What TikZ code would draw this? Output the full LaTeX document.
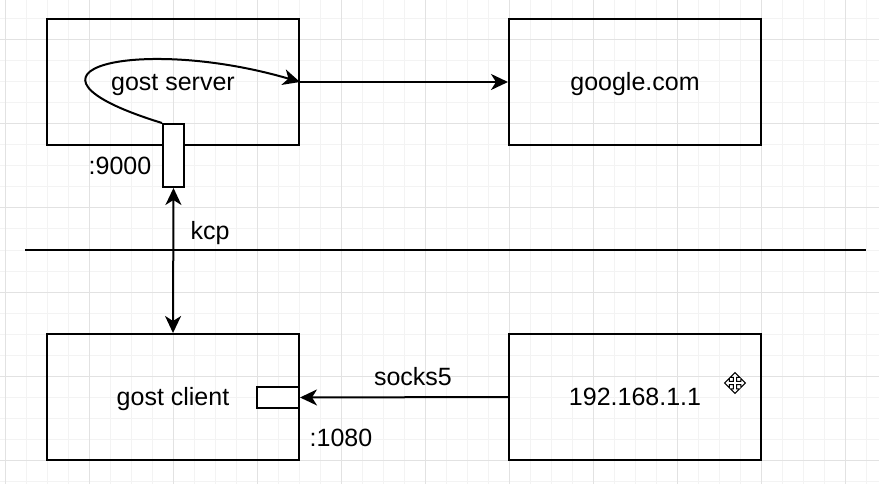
\documentclass[tikz,border=0pt]{standalone}
\usepackage{fontspec}
\setmainfont{Liberation Sans}
\usetikzlibrary{arrows.meta}
\definecolor{gridminor}{HTML}{F3F3F3}
\definecolor{gridmajor}{HTML}{E2E2E2}
\tikzset{
	box/.style={draw,line width=2pt,minimum width=252pt,minimum height=126pt,inner sep=0pt,text height=22.6pt,text depth=5.3pt},
	port/.style={draw,line width=2pt,fill=white,inner sep=0pt},
	conn/.style={line width=2pt,-{Stealth[length=17pt,width=16pt,inset=5pt]}},
	lbl/.style={inner sep=0pt,text height=22.6pt,text depth=5.3pt},
}
\begin{document}
\begin{tikzpicture}[x=1pt,y=-1pt,font=\fontsize{25}{30}\selectfont]
\useasboundingbox[fill=white] (0,0) rectangle (879,484);

% background grid
\foreach \x in {5,26,...,879} \draw[gridminor,line width=1pt] (\x,0) -- (\x,484);
\foreach \y in {19,40,...,484} \draw[gridminor,line width=1pt] (0,\y) -- (879,\y);
\foreach \x in {5,89,...,879} \draw[gridmajor,line width=1pt] (\x,0) -- (\x,484);
\foreach \y in {40,124,...,484} \draw[gridmajor,line width=1pt] (0,\y) -- (879,\y);

% hosts
\node[box] (server) at (173,82) {gost server};
\node[box] (google) at (635,82) {google.com};
\node[box] (client) at (173,397) {gost client};
\node[box] (host) at (635,397) {192.168.1.1};

% ports
\node[port,minimum width=21pt,minimum height=63pt] (p9000) at (173.5,155.5) {};
\node[port,minimum width=42pt,minimum height=21pt] (p1080) at (278,397.5) {};
\node[lbl] (l9000) at (120,166) {:9000};
\node[lbl] (l1080) at (341,438) {:1080};

% divider
\coordinate (divl) at (25,250);
\coordinate (divr) at (866,250);
\draw[line width=2pt] (divl) -- (divr);

% connections
\draw[conn] (p9000.north west) .. controls (-10,70) and (140,35) .. (server.east);
\draw[conn] (server.east) -- (google.west);
\draw[conn,{Stealth[length=17pt,width=16pt,inset=5pt]}-{Stealth[length=17pt,width=16pt,inset=5pt]}] (p9000.south) -- (client.north);
\node[lbl] (kcp) at (210,231) {kcp};
\draw[conn] (host.west) -- (p1080.east);
\node[lbl] (socks) at (413,377) {socks5};

% move cursor
\begin{scope}[shift={(735,383)},scale=1.15]
\draw[fill=white,line width=1pt,line join=miter]
	(1.5,-1.5) -- (5,-1.5) -- (5,-4) -- (9,0) -- (5,4) -- (5,1.5) -- (1.5,1.5)
	-- (1.5,5) -- (4,5) -- (0,9) -- (-4,5) -- (-1.5,5) -- (-1.5,1.5)
	-- (-5,1.5) -- (-5,4) -- (-9,0) -- (-5,-4) -- (-5,-1.5) -- (-1.5,-1.5)
	-- (-1.5,-5) -- (-4,-5) -- (0,-9) -- (4,-5) -- (1.5,-5) -- cycle;
\end{scope}

\end{tikzpicture}
\end{document}
